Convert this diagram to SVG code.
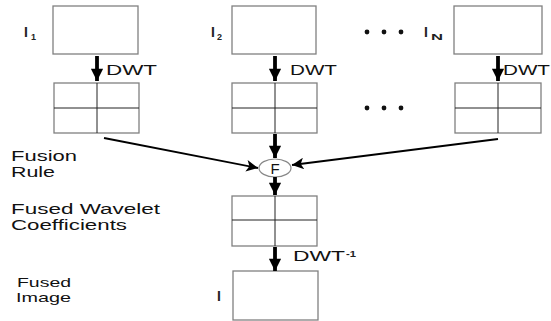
<svg xmlns="http://www.w3.org/2000/svg" width="551" height="321" viewBox="0 0 551 321">
  <defs>
    <marker id="head" viewBox="0 0 10 10" refX="10" refY="5" markerWidth="4" markerHeight="3.2" orient="auto" markerUnits="strokeWidth">
      <path d="M0,0 L10,5 L0,10 Z" fill="#000"/>
    </marker>
    <marker id="headThin" viewBox="0 0 10 10" refX="10" refY="5" markerWidth="7.5" markerHeight="6.5" orient="auto" markerUnits="strokeWidth">
      <path d="M0,0 L10,5 L0,10 L2.5,5 Z" fill="#000"/>
    </marker>
  </defs>
  <style>
    text { font-family: "Liberation Sans", Arial, sans-serif; fill: #111; }
    .lbl { font-size: 14px; }
    .sm { font-size: 13px; }
    .id { font-size: 14px; font-weight: bold; fill: #222; }
    .sub { font-size: 9px; font-weight: bold; fill: #222; }
    .box { fill: #fff; stroke: #808080; stroke-width: 1.3; }
    .div { stroke: #222; stroke-width: 1; }
    .thick { stroke: #000; stroke-width: 3.8; fill: none; }
    .thin { stroke: #000; stroke-width: 1.8; fill: none; }
    .dot { fill: #111; }
  </style>
  <rect width="551" height="321" fill="#fff"/>

  <!-- source images -->
  <g id="img1">
    <rect class="box" x="53" y="6" width="85" height="48"/>
    <text class="id" x="24" y="37">I</text><text class="sub" x="31" y="40">1</text>
  </g>
  <g id="img2">
    <rect class="box" x="232" y="6" width="84" height="48"/>
    <text class="id" x="211" y="37">I</text><text class="sub" x="217" y="40">2</text>
  </g>
  <g id="imgN">
    <rect class="box" x="454" y="6" width="88" height="48"/>
    <text class="id" x="424" y="37">I</text><text class="sub" x="431" y="40" textLength="12" lengthAdjust="spacingAndGlyphs">N</text>
  </g>
  <g id="dotsTop">
    <circle class="dot" cx="367" cy="32" r="2.4"/>
    <circle class="dot" cx="384" cy="32" r="2.4"/>
    <circle class="dot" cx="401" cy="32" r="2.4"/>
  </g>

  <!-- wavelet coefficient grids -->
  <g id="grid1">
    <rect class="box" x="54" y="83" width="85" height="50"/>
    <line class="div" x1="97" y1="83" x2="97" y2="133"/>
    <line class="div" x1="54" y1="108" x2="139" y2="108"/>
  </g>
  <g id="grid2">
    <rect class="box" x="232" y="83" width="85" height="50"/>
    <line class="div" x1="275" y1="83" x2="275" y2="133"/>
    <line class="div" x1="232" y1="108" x2="317" y2="108"/>
  </g>
  <g id="gridN">
    <rect class="box" x="455" y="83" width="86" height="50"/>
    <line class="div" x1="498" y1="83" x2="498" y2="133"/>
    <line class="div" x1="455" y1="108" x2="541" y2="108"/>
  </g>
  <g id="dotsMid">
    <circle class="dot" cx="367" cy="108" r="2.4"/>
    <circle class="dot" cx="384" cy="108" r="2.4"/>
    <circle class="dot" cx="401" cy="108" r="2.4"/>
  </g>

  <!-- fusion rule -->
  <g id="fuse">
    <ellipse cx="275" cy="168" rx="16" ry="9" fill="#fff" stroke="#888" stroke-width="1.2"/>
    <text x="275" y="173.5" text-anchor="middle" font-size="15">F</text>
  </g>

  <!-- fused coefficients -->
  <g id="fusedGrid">
    <rect class="box" x="232" y="196" width="85" height="50"/>
    <line class="div" x1="275" y1="196" x2="275" y2="246"/>
    <line class="div" x1="232" y1="220" x2="317" y2="220"/>
  </g>

  <!-- fused image -->
  <g id="fusedImg">
    <rect class="box" x="233" y="271" width="85" height="49"/>
    <text class="id" x="217" y="301">I</text>
  </g>

  <!-- row labels -->
  <g id="labels">
    <text class="lbl" x="11" y="161" textLength="66" lengthAdjust="spacingAndGlyphs">Fusion</text>
    <text class="lbl" x="11" y="177" textLength="44" lengthAdjust="spacingAndGlyphs">Rule</text>
    <text class="lbl" x="11" y="214" textLength="149" lengthAdjust="spacingAndGlyphs">Fused Wavelet</text>
    <text class="lbl" x="11" y="230" textLength="116" lengthAdjust="spacingAndGlyphs">Coefficients</text>
    <text class="sm" x="17" y="287" textLength="54" lengthAdjust="spacingAndGlyphs">Fused</text>
    <text class="sm" x="16" y="302" textLength="55" lengthAdjust="spacingAndGlyphs">Image</text>
  </g>

  <!-- connectors -->
  <g id="connectors">
    <line class="thick" x1="97" y1="56" x2="97" y2="81" marker-end="url(#head)"/>
    <line class="thick" x1="275" y1="56" x2="275" y2="81" marker-end="url(#head)"/>
    <line class="thick" x1="498" y1="56" x2="498" y2="81" marker-end="url(#head)"/>
    <line class="thick" x1="275" y1="134" x2="275" y2="158" marker-end="url(#head)"/>
    <line class="thick" x1="275" y1="177" x2="275" y2="195" marker-end="url(#head)"/>
    <line class="thick" x1="275" y1="247" x2="275" y2="271" marker-end="url(#head)"/>
    <line class="thin" x1="104" y1="138" x2="258" y2="168" marker-end="url(#headThin)"/>
    <line class="thin" x1="498" y1="139" x2="292" y2="165" marker-end="url(#headThin)"/>
    <text class="lbl" x="106" y="75" textLength="51" lengthAdjust="spacingAndGlyphs">DWT</text>
    <text class="lbl" x="290" y="75" textLength="47" lengthAdjust="spacingAndGlyphs">DWT</text>
    <text class="lbl" x="503" y="75" textLength="47" lengthAdjust="spacingAndGlyphs">DWT</text>
    <text class="lbl" x="293" y="261" textLength="52" lengthAdjust="spacingAndGlyphs">DWT</text>
    <text class="sub" x="346" y="257" textLength="10" lengthAdjust="spacingAndGlyphs">-1</text>
  </g>
</svg>
